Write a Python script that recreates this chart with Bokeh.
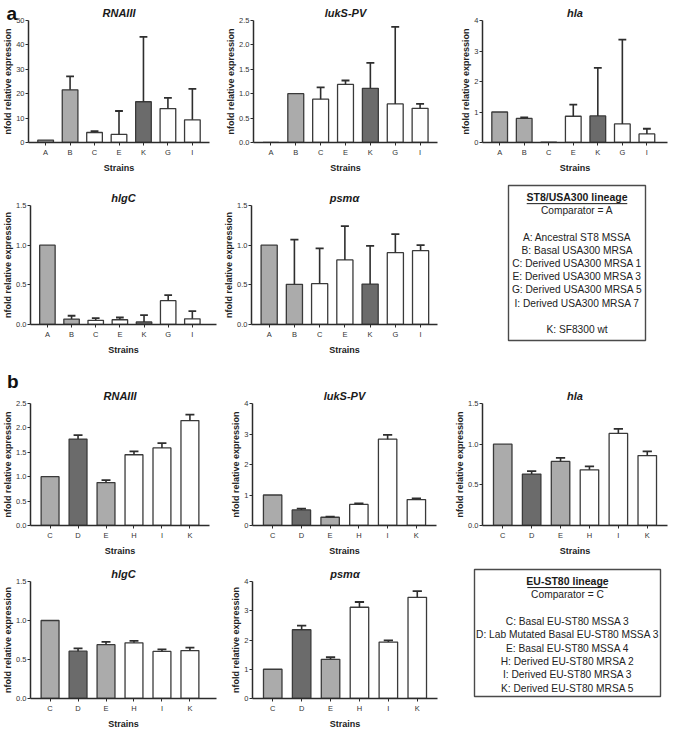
import numpy as np
from bokeh.plotting import figure
from bokeh.layouts import column, row
from bokeh.models import Range1d, FixedTicker, NumeralTickFormatter, ColumnDataSource, Title
from bokeh.embed import file_html
from bokeh.resources import INLINE
from bokeh.core.properties import value

# ---------------- data ----------------
cats_a = ["A", "B", "C", "E", "K", "G", "I"]
kinds_a = ["light", "light", "white", "white", "dark", "white", "white"]
cats_b = ["C", "D", "E", "H", "I", "K"]
kinds_b = ["light", "dark", "light", "white", "white", "white"]

a_rnaiii = [1.0, 21.6, 4.1, 3.3, 16.7, 13.9, 9.3]
a_rnaiii_err = [0.0, 5.5, 0.6, 9.6, 26.6, 4.4, 12.7]
a_luks = [0.0, 1.0, 0.887, 1.19, 1.11, 0.79, 0.70]
a_luks_err = [0.0, 0.0, 0.243, 0.08, 0.52, 1.58, 0.09]
a_hla = [1.0, 0.79, 0.01, 0.86, 0.87, 0.61, 0.28]
a_hla_err = [0.0, 0.03, 0.0, 0.38, 1.58, 2.76, 0.17]
a_hlgc = [1.0, 0.068, 0.052, 0.06, 0.032, 0.30, 0.072]
a_hlgc_err = [0.0, 0.042, 0.028, 0.028, 0.085, 0.07, 0.097]
a_psma = [1.0, 0.507, 0.515, 0.814, 0.51, 0.905, 0.93]
a_psma_err = [0.0, 0.562, 0.445, 0.426, 0.48, 0.235, 0.07]

b_rnaiii = [1.0, 1.77, 0.88, 1.45, 1.59, 2.15]
b_rnaiii_err = [0.0, 0.08, 0.05, 0.07, 0.10, 0.12]
b_luks = [1.0, 0.51, 0.27, 0.69, 2.83, 0.85]
b_luks_err = [0.0, 0.045, 0.02, 0.035, 0.14, 0.035]
b_hla = [1.0, 0.632, 0.788, 0.684, 1.132, 0.86]
b_hla_err = [0.0, 0.036, 0.044, 0.044, 0.056, 0.052]
b_hlgc = [1.0, 0.607, 0.69, 0.714, 0.603, 0.615]
b_hlgc_err = [0.0, 0.036, 0.036, 0.024, 0.028, 0.036]
b_psma = [1.0, 2.35, 1.34, 3.12, 1.93, 3.46]
b_psma_err = [0.0, 0.14, 0.07, 0.18, 0.06, 0.21]

legend_a_title = "ST8/USA300 lineage"
legend_a_comp = "Comparator = A"
legend_a_lines = ["A: Ancestral ST8 MSSA", "B: Basal USA300 MRSA", "C: Derived USA300 MRSA 1",
                  "E: Derived USA300 MRSA 3", "G: Derived USA300 MRSA 5", "I: Derived USA300 MRSA 7",
                  "", "K: SF8300 wt"]
legend_b_title = "EU-ST80 lineage"
legend_b_comp = "Comparator = C"
legend_b_lines = ["C: Basal EU-ST80 MSSA 3", "D: Lab Mutated Basal EU-ST80 MSSA 3",
                  "E: Basal EU-ST80 MSSA 4", "H: Derived EU-ST80 MRSA 2",
                  "I: Derived EU-ST80 MRSA 3", "K: Derived EU-ST80 MRSA 5"]
panel_letters = ["a", "b"]

# ---------------- style / geometry ----------------
FILL = {"light": "#ababab", "dark": "#6b6b6b", "white": "#ffffff"}
FONT = "Liberation Sans"
TOTAL_W, TOTAL_H = 669, 731
SX = TOTAL_W / 683
SY = TOTAL_H / 747


def tx(r):
    return (r - 2) * SX


def ty(r):
    return r * SY


COLS = [0, int(round(tx(225))), int(round(tx(455))), TOTAL_W]
ROWS = [0, int(round(ty(185))), int(round(ty(365))), int(round(ty(570))), TOTAL_H]


def borders(ci, ri, frame):
    x0, y0, x1, y1 = frame
    c0, c1 = COLS[ci], COLS[ci + 1]
    r0, r1 = ROWS[ri], ROWS[ri + 1]
    return (c1 - c0, r1 - r0,
            int(round(tx(x0) - c0)), int(round(c1 - tx(x1))),
            int(round(ty(y0) - r0)), int(round(r1 - ty(y1))))


def no_align(p):
    try:
        p.frame_align = False
    except Exception:
        pass


def bar_panel(title, cats, vals, errs, kinds, ymax, ystep, fmt, ci, ri, frame, x_end=None,
              letter=None, letter_x=None, letter_standoff=0):
    W, H, bl, br, bt, bb = borders(ci, ri, frame)
    n = len(cats)
    xs = list(range(1, n + 1))
    xe = x_end if x_end else n + 0.7
    p = figure(width=W, height=H, output_backend="svg", toolbar_location=None,
               x_range=Range1d(0.3, xe), y_range=Range1d(0, ymax), title=None,
               min_border_left=bl, min_border_right=br, min_border_top=bt, min_border_bottom=bb)
    no_align(p)
    p.outline_line_color = None
    p.grid.visible = False
    p.background_fill_color = "white"
    p.border_fill_color = "white"

    src = ColumnDataSource(dict(x=xs, top=vals, fill=[FILL[k] for k in kinds]))
    p.vbar(x="x", top="top", width=0.64, fill_color="fill", line_color="#3a3a3a",
           line_width=1.3, source=src)

    ex = [x for x, e in zip(xs, errs) if e > 0]
    ev = [v for v, e in zip(vals, errs) if e > 0]
    ee = [v + e for v, e in zip(vals, errs) if e > 0]
    esrc = ColumnDataSource(dict(x=ex, y0=ev, y1=ee,
                                 cl=[x - 0.16 for x in ex], cr=[x + 0.16 for x in ex]))
    p.segment(x0="x", y0="y0", x1="x", y1="y1", line_color="#2e2e2e", line_width=1.6, source=esrc)
    p.segment(x0="cl", y0="y1", x1="cr", y1="y1", line_color="#2e2e2e", line_width=1.8, source=esrc)

    p.xaxis.ticker = FixedTicker(ticks=xs)
    p.xaxis.major_label_overrides = {x: c for x, c in zip(xs, cats)}
    ticks = list(np.round(np.arange(0, ymax + ystep / 2, ystep), 3))
    p.yaxis.ticker = FixedTicker(ticks=ticks)
    p.yaxis.formatter = NumeralTickFormatter(format=fmt)
    for ax in (p.xaxis, p.yaxis):
        ax.axis_line_color = "#2b2b2b"
        ax.axis_line_width = 1.5
        ax.major_tick_line_color = "#2b2b2b"
        ax.major_tick_line_width = 1
        ax.major_tick_in = 0
        ax.major_tick_out = 3
        ax.minor_tick_line_color = None
        ax.major_label_text_font = FONT
        ax.major_label_text_font_size = "7.5px"
        ax.major_label_text_color = "#333333"
        ax.axis_label_text_font = FONT
        ax.axis_label_text_font_size = "9px"
        ax.axis_label_text_font_style = "bold"
        ax.axis_label_text_color = "#222222"
    p.xaxis.axis_label = "Strains"
    p.xaxis.major_label_standoff = 2
    p.xaxis.axis_label_standoff = 3
    p.yaxis.axis_label = "nfold relative expression"
    p.yaxis.major_label_standoff = 1
    p.yaxis.axis_label_standoff = 0

    p.add_layout(Title(text=title, align="center", text_font=FONT, text_font_size="11px",
                       text_font_style="bold italic", text_color="#1a1a1a", standoff=3), "above")

    if letter:
        p.add_layout(Title(text=letter, align="left", offset=-(tx(frame[0]) - tx(letter_x)),
                           text_font=FONT, text_font_size="19px", text_font_style="bold",
                           text_color="#111111", standoff=letter_standoff), "above")
    return p


def legend_panel(title, comp, lines, ci, ri, box, first_y, step, ul_w):
    W, H, bl, br, bt, bb = borders(ci, ri, box)
    x0, y0, x1, y1 = box
    p = figure(width=W, height=H, output_backend="svg", toolbar_location=None,
               x_range=Range1d(x0, x1), y_range=Range1d(y1, y0), title=None,
               x_axis_type=None, y_axis_type=None,
               min_border_left=bl, min_border_right=br, min_border_top=bt, min_border_bottom=bb)
    no_align(p)
    p.grid.visible = False
    p.outline_line_color = "#4a4a4a"
    p.outline_line_width = 1.4
    cx = (x0 + x1) / 2
    p.text(x=[cx], y=[first_y], text=[title], text_align="center", text_baseline="middle",
           text_font=value(FONT), text_font_size="10.5px", text_font_style="bold", text_color="#1a1a1a")
    p.segment(x0=[cx - ul_w / 2], y0=[first_y + 6.5], x1=[cx + ul_w / 2], y1=[first_y + 6.5],
              line_color="#1a1a1a", line_width=1)
    body = [comp, ""] + lines
    ys = [first_y + step * (i + 1) for i in range(len(body))]
    p.text(x=[cx] * len(body), y=ys, text=body, text_align="center", text_baseline="middle",
           text_font=value(FONT), text_font_size="10.2px", text_color="#222222")
    return p


f11 = bar_panel("RNAIII", cats_a, a_rnaiii, a_rnaiii_err, kinds_a, 50, 10, "0", 0, 0, (25, 20, 215, 145),
                letter=panel_letters[0], letter_x=2.5, letter_standoff=-40)
f12 = bar_panel("lukS-PV", cats_a, a_luks, a_luks_err, kinds_a, 2.5, 0.5, "0.0", 1, 0, (260, 20, 448, 145))
f13 = bar_panel("hla", cats_a, a_hla, a_hla_err, kinds_a, 4, 1, "0", 2, 0, (494, 20, 683, 145), x_end=7.84)
f21 = bar_panel("hlgC", cats_a, a_hlgc, a_hlgc_err, kinds_a, 1.5, 0.5, "0.0", 0, 1, (25, 209, 223, 334),
                x_end=8.0)
f22 = bar_panel("psm\u03b1", cats_a, a_psma, a_psma_err, kinds_a, 1.5, 0.5, "0.0", 1, 1, (258, 209, 448, 334),
                x_end=7.67)
L1 = legend_panel(legend_a_title, legend_a_comp, legend_a_lines, 2, 1, (521, 189, 660, 347), 201, 13.5, 102)

f31 = bar_panel("RNAIII", cats_b, b_rnaiii, b_rnaiii_err, kinds_b, 2.5, 0.5, "0.0", 0, 2, (27, 412, 215, 537),
                letter=panel_letters[1], letter_x=3, letter_standoff=-10)
f32 = bar_panel("lukS-PV", cats_b, b_luks, b_luks_err, kinds_b, 4, 1, "0", 1, 2, (259, 412, 447, 537))
f33 = bar_panel("hla", cats_b, b_hla, b_hla_err, kinds_b, 1.5, 0.5, "0.0", 2, 2, (494, 412, 683, 537))
f41 = bar_panel("hlgC", cats_b, b_hlgc, b_hlgc_err, kinds_b, 1.5, 0.5, "0.0", 0, 3, (26, 594, 223, 720),
                x_end=6.95)
f42 = bar_panel("psm\u03b1", cats_b, b_psma, b_psma_err, kinds_b, 4, 1, "0", 1, 3, (259, 594, 448, 720))
L2 = legend_panel(legend_b_title, legend_b_comp, legend_b_lines, 2, 3, (486, 581, 676, 711), 593, 13.7, 82)

layout = column(row(f11, f12, f13, spacing=0), row(f21, f22, L1, spacing=0),
                row(f31, f32, f33, spacing=0), row(f41, f42, L2, spacing=0), spacing=0)

open("out.html", "w").write(file_html(layout, INLINE))
